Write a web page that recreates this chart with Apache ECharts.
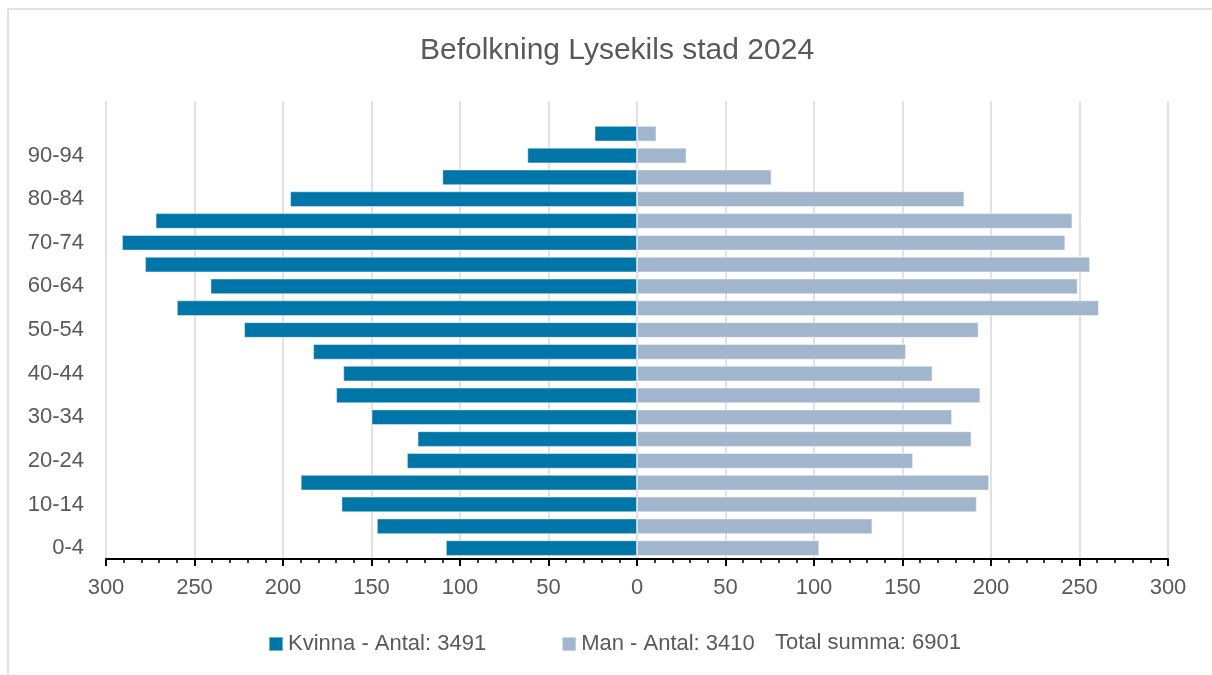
<!DOCTYPE html>
<html>
<head>
<meta charset="utf-8">
<script src="https://cdn.jsdelivr.net/npm/echarts@6/dist/echarts.min.js"></script>
<style>
html,body{margin:0;padding:0;background:#fff;}
#chart{width:1212px;height:675px;}
</style>
</head>
<body>
<div id="chart"></div>
<script>
// Age groups, bottom to top (last entry is an empty top band as in the source)
const categories = ['0-4','5-9','10-14','15-19','20-24','25-29','30-34','35-39','40-44','45-49',
  '50-54','55-59','60-64','65-69','70-74','75-79','80-84','85-89','90-94','95+',''];
const kvinna = [108,147,167,190,130,124,150,170,166,183,222,260,241,278,291,272,196,110,62,24];
const man = [103,133,192,199,156,189,178,194,167,152,193,261,249,256,242,246,185,76,28,11];
const titleText = 'Befolkning Lysekils stad 2024';
const kvinnaLabel = 'Kvinna - Antal';
const manLabel = 'Man - Antal';
const totalLabel = 'Total summa';

const sum = a => a.reduce((s, v) => s + v, 0);
const kName = kvinnaLabel + ': ' + sum(kvinna);
const mName = manLabel + ': ' + sum(man);
const tName = totalLabel + ': ' + (sum(kvinna) + sum(man));

const FONT = '"Liberation Sans", Arial, sans-serif';
const TXT = '#595959';

const chart = echarts.init(document.getElementById('chart'), null, {renderer: 'canvas'});
chart.setOption({
  animation: false,
  backgroundColor: '#fff',
  title: {
    text: titleText,
    left: 612,
    textAlign: 'center',
    top: 31,
    textStyle: {fontFamily: FONT, fontSize: 30, fontWeight: 'normal', color: TXT}
  },
  legend: {
    data: [kName, mName],
    left: 263,
    top: 628,
    itemWidth: 14,
    itemHeight: 14,
    itemGap: 75,
    icon: 'rect',
    textStyle: {fontFamily: FONT, fontSize: 22, color: TXT}
  },
  graphic: [
    {type: 'rect', shape: {x: 8, y: 9, width: 1230, height: 700}, style: {fill: 'none', stroke: '#d9d9d9', lineWidth: 1.5}, silent: true, z: -1},
    {type: 'text', x: 775, y: 643, style: {text: tName, font: '22px ' + FONT, fill: TXT, verticalAlign: 'middle'}}
  ],
  grid: {left: 106, right: 44, top: 101, bottom: 116, containLabel: false},
  xAxis: {
    type: 'value',
    min: -300, max: 300, interval: 50,
    axisLine: {show: true, lineStyle: {color: '#000', width: 2}},
    axisTick: {show: true, length: 7, lineStyle: {color: '#000', width: 2}},
    minorTick: {show: true, splitNumber: 5, length: 4, lineStyle: {color: '#000', width: 1.5}},
    splitLine: {show: true, lineStyle: {color: '#d9d9d9', width: 1.5}},
    axisLabel: {formatter: v => String(Math.abs(v)), fontFamily: FONT, fontSize: 22, color: TXT, margin: 18}
  },
  yAxis: {
    type: 'category',
    data: categories,
    axisLine: {show: false},
    axisTick: {show: false},
    splitLine: {show: false},
    axisLabel: {interval: 1, fontFamily: FONT, fontSize: 22, color: TXT, margin: 22}
  },
  series: [
    {
      name: kName, type: 'bar', data: kvinna.map(v => -v),
      barWidth: '72%', barGap: '-100%',
      itemStyle: {color: '#0076A8', borderColor: 'rgba(255,255,255,0.45)', borderWidth: 1}
    },
    {
      name: mName, type: 'bar', data: man,
      barWidth: '72%', barGap: '-100%',
      itemStyle: {color: '#A1B6CD', borderColor: 'rgba(255,255,255,0.45)', borderWidth: 1}
    }
  ]
});
</script>
</body>
</html>
